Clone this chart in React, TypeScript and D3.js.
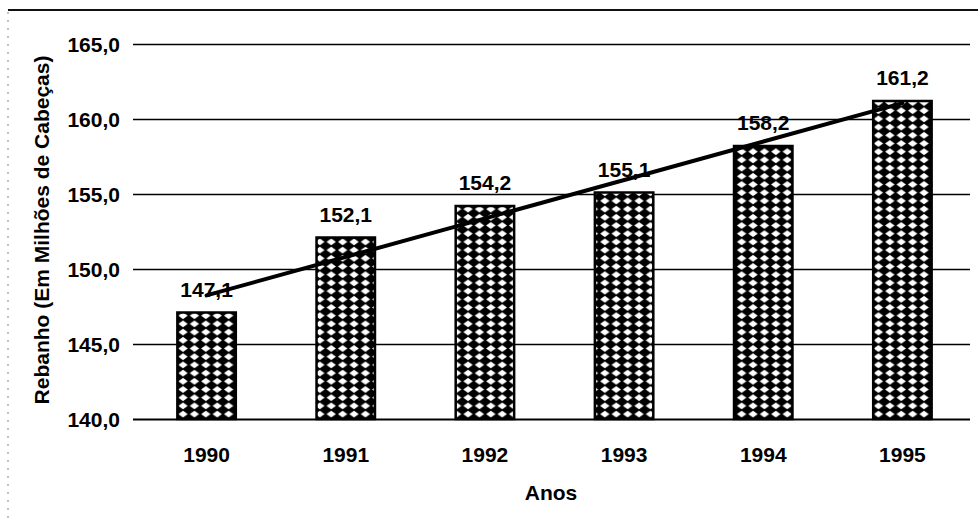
import { useEffect, useRef } from 'react';
import * as d3 from 'd3';

// Rebanho bovino, 1990-1995
const years = ['1990', '1991', '1992', '1993', '1994', '1995'];
const herd = [147.1, 152.1, 154.2, 155.1, 158.2, 161.2];
const yTicks = [140, 145, 150, 155, 160, 165];

const fmt = (v: number) => v.toFixed(1).replace('.', ',');

const App = () => {
  const svgRef = useRef<SVGSVGElement | null>(null);

  useEffect(() => {
    if (!svgRef.current) return;
    const svg = d3.select(svgRef.current);
    svg.selectAll('*').remove();

    const width = 978;
    const height = 524;
    const font = '"Liberation Sans", Arial, sans-serif';

    const x = d3.scaleBand<string>()
      .domain(years)
      .range([137, 972])
      .paddingInner(0.58)
      .paddingOuter(0.29);

    const y = d3.scaleLinear().domain([140, 165]).range([419, 44]);

    // diamond pattern for the bars (black ground, white diamonds)
    const defs = svg.append('defs');
    const pat = defs.append('pattern')
      .attr('id', 'diamonds')
      .attr('patternUnits', 'userSpaceOnUse')
      .attr('width', 11.4)
      .attr('height', 8.2)
      .attr('x', x(years[0])!)
      .attr('y', 0);
    pat.append('rect').attr('width', 11.4).attr('height', 8.2).attr('fill', '#000');
    pat.append('path')
      .attr('d', 'M5.7,0.7 L10.4,4.1 L5.7,7.5 L1,4.1 Z')
      .attr('fill', '#fff');

    // page frame (scan edges)
    svg.append('line')
      .attr('x1', 8).attr('x2', width)
      .attr('y1', 10).attr('y2', 10)
      .attr('stroke', '#111')
      .attr('stroke-width', 2);
    svg.append('line')
      .attr('x1', 8).attr('x2', 8)
      .attr('y1', 12).attr('y2', height)
      .attr('stroke', '#888')
      .attr('stroke-width', 1)
      .attr('stroke-dasharray', '2,6');

    // gridlines
    svg.append('g')
      .selectAll('line')
      .data(yTicks)
      .join('line')
      .attr('x1', 133)
      .attr('x2', 970)
      .attr('y1', (d) => y(d) + 0.5)
      .attr('y2', (d) => y(d) + 0.5)
      .attr('stroke', '#000')
      .attr('stroke-width', (d) => (d === 140 ? 2 : 1.3));

    // y tick labels
    svg.append('g')
      .selectAll('text')
      .data(yTicks)
      .join('text')
      .attr('x', 120)
      .attr('y', (d) => y(d))
      .attr('dy', '0.36em')
      .attr('text-anchor', 'end')
      .attr('font-family', font)
      .attr('font-weight', 'bold')
      .attr('font-size', '21px')
      .attr('fill', '#000')
      .text((d) => fmt(d));

    // bars
    svg.append('g')
      .selectAll('rect')
      .data(herd)
      .join('rect')
      .attr('x', (_, i) => x(years[i])!)
      .attr('y', (d) => y(d))
      .attr('width', x.bandwidth())
      .attr('height', (d) => y(140) - y(d))
      .attr('fill', 'url(#diamonds)')
      .attr('stroke', '#000')
      .attr('stroke-width', 2.5);

    // value labels
    svg.append('g')
      .selectAll('text')
      .data(herd)
      .join('text')
      .attr('x', (_, i) => x(years[i])! + x.bandwidth() / 2)
      .attr('y', (d) => y(d) - 16)
      .attr('text-anchor', 'middle')
      .attr('font-family', font)
      .attr('font-weight', 'bold')
      .attr('font-size', '21px')
      .attr('fill', '#000')
      .text((d) => fmt(d));

    // linear trend line (least squares)
    const idx = herd.map((_, i) => i);
    const mx = d3.mean(idx)!;
    const my = d3.mean(herd)!;
    const slope = d3.sum(idx, (i) => (i - mx) * (herd[i] - my)) / d3.sum(idx, (i) => (i - mx) ** 2);
    const intercept = my - slope * mx;
    const trend = [0, herd.length - 1].map((i) => ({ i, v: intercept + slope * i }));
    const line = d3.line<{ i: number; v: number }>()
      .x((d) => x(years[d.i])! + x.bandwidth() / 2)
      .y((d) => y(d.v));
    svg.append('path')
      .attr('d', line(trend)!)
      .attr('fill', 'none')
      .attr('stroke', '#000')
      .attr('stroke-width', 4)
      .attr('stroke-linecap', 'round');

    // x labels
    svg.append('g')
      .selectAll('text')
      .data(years)
      .join('text')
      .attr('x', (d) => x(d)! + x.bandwidth() / 2)
      .attr('y', 462)
      .attr('text-anchor', 'middle')
      .attr('font-family', font)
      .attr('font-weight', 'bold')
      .attr('font-size', '21px')
      .attr('fill', '#000')
      .text((d) => d);

    // axis titles
    svg.append('text')
      .attr('x', 551)
      .attr('y', 500)
      .attr('text-anchor', 'middle')
      .attr('font-family', font)
      .attr('font-weight', 'bold')
      .attr('font-size', '21px')
      .attr('fill', '#000')
      .text('Anos');

    svg.append('text')
      .attr('transform', 'translate(49,230) rotate(-90)')
      .attr('text-anchor', 'middle')
      .attr('font-family', font)
      .attr('font-weight', 'bold')
      .attr('font-size', '21px')
      .attr('fill', '#000')
      .text('Rebanho (Em Milhões de Cabeças)');
  }, []);

  return (
    <svg
      ref={svgRef}
      width={978}
      height={524}
      style={{ position: 'absolute', left: 0, top: 0, background: '#fff', display: 'block' }}
    />
  );
};

export default App;
